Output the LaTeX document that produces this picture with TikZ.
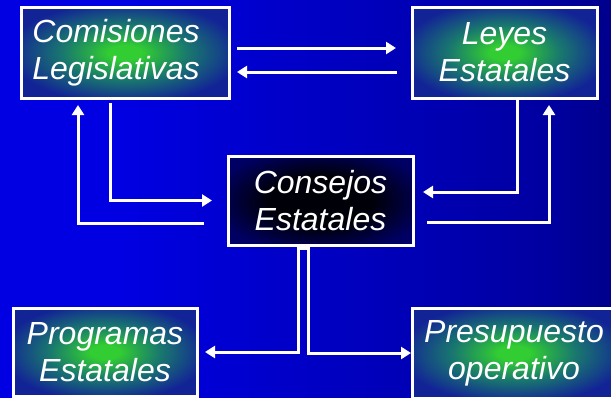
\documentclass[tikz,border=0pt]{standalone}
\usepackage{fontspec}
\setmainfont{Liberation Sans}
\usetikzlibrary{arrows.meta}
\definecolor{bgleft}{RGB}{0,0,226}
\definecolor{bgmid}{RGB}{0,0,160}
\definecolor{bgright}{RGB}{0,0,40}
\definecolor{boxgreen}{RGB}{50,205,50}
\definecolor{boxteal}{RGB}{25,120,110}
\definecolor{boxblue}{RGB}{18,35,150}
\definecolor{darkcore}{RGB}{0,0,8}
\definecolor{darkedge}{RGB}{0,0,100}
\pgfdeclarehorizontalshading{backdrop}{100bp}{color(0bp)=(bgleft); color(35bp)=(bgleft); color(70bp)=(bgmid); color(100bp)=(bgright)}
\pgfdeclareradialshading{boxglow}{\pgfpoint{0bp}{0bp}}{color(0bp)=(boxgreen); color(4bp)=(boxgreen); color(15bp)=(boxteal); color(28bp)=(boxblue); color(50bp)=(boxblue)}
\pgfdeclareradialshading{darkglow}{\pgfpoint{0bp}{0bp}}{color(0bp)=(darkcore); color(14bp)=(darkcore); color(30bp)=(darkedge); color(50bp)=(darkedge)}
\tikzstyle{stage} = [
    draw=white,
    line width=3pt,
    rectangle,
    shading=boxglow,
    text=white,
    align=center,
    font=\fontsize{32}{37}\selectfont\itshape,
    outer sep=0pt
    ]
\tikzstyle{council} = [stage, shading=darkglow]
\tikzstyle{flow} = [draw=white, line width=3pt, -{Triangle[length=10pt,width=12pt]}]
\begin{document}
\begin{tikzpicture}[x=1pt,y=-1pt]
\useasboundingbox (0,0) rectangle (611,397);
\shade[shading=backdrop] (0,0) rectangle (611,397);

\node[stage, minimum width=208pt, minimum height=91pt] (comisiones) at (125,52.5) {\hspace*{-18pt}Comisiones\\\hspace*{-18pt}Legislativas};
\node[stage, minimum width=185pt, minimum height=91pt] (leyes) at (504.5,52.5) {Leyes\\Estatales};
\node[council, minimum width=185pt, minimum height=89pt] (consejos) at (320.5,200.5) {Consejos\\Estatales};
\node[stage, minimum width=184pt, minimum height=88pt] (programas) at (105,352) {Programas\\Estatales};
\node[stage, minimum width=204pt, minimum height=90pt] (presupuesto) at (514,353) {Presupuesto\\operativo};

\draw[flow] ([xshift=8pt,yshift=4.5pt]comisiones.east) -- ([xshift=-16pt,yshift=4.5pt]leyes.west);
\draw[flow] ([xshift=-15pt,yshift=-19.5pt]leyes.west) -- ([xshift=8pt,yshift=-19.5pt]comisiones.east);
\draw[flow] ([xshift=-15pt,yshift=-5pt]comisiones.south) |- ([xshift=-16pt]consejos.west);
\draw[flow] ([xshift=-24pt,yshift=-22.5pt]consejos.west) -| ([xshift=-47pt,yshift=-7pt]comisiones.south);
\draw[flow] ([xshift=12.5pt]leyes.south) |- ([xshift=10pt,yshift=8.5pt]consejos.east);
\draw[flow] ([xshift=14pt,yshift=-21.5pt]consejos.east) -| ([xshift=44.5pt,yshift=-7pt]leyes.south);
\draw[flow] ([xshift=-22.5pt]consejos.south) |- ([xshift=8pt]programas.east);
\draw[flow] ([xshift=-12.5pt]consejos.south) |- ([xshift=-1pt]presupuesto.west);
\draw[white, line width=3pt] ([xshift=-24pt,yshift=-3pt]consejos.south) -- ([xshift=-11pt,yshift=-3pt]consejos.south);
\end{tikzpicture}
\end{document}
